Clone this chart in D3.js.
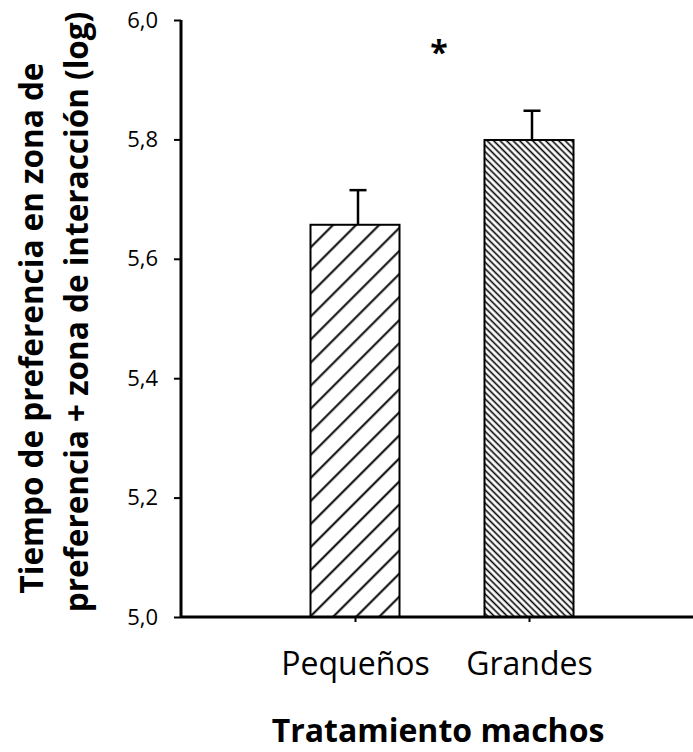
<!DOCTYPE html>
<html>
<head>
<meta charset="utf-8">
<script src="https://cdn.jsdelivr.net/npm/d3@7"></script>
<style>
  body { margin: 0; background: #fff; }
  text { font-family: "Open Sans", sans-serif; fill: #000; }
</style>
</head>
<body>
<svg id="chart" width="693" height="752"></svg>
<script>
const categories = ["Pequeños", "Grandes"];
const means = [5.657, 5.799];
const errors = [0.058, 0.049];
const yTicks = [5.0, 5.2, 5.4, 5.6, 5.8, 6.0];
const patterns = ["hatchWide", "hatchDense"];

const SVG = d3.select("#chart");
const WIDTH = 693;
const HEIGHT = 752;
const MARGIN = { top: 20, bottom: 135, right: -10, left: 181 };
const INNERWIDTH = WIDTH - MARGIN.left - MARGIN.right;
const INNERHEIGHT = HEIGHT - MARGIN.top - MARGIN.bottom;
const BARWIDTH = 89;

const data = categories.map((c, i) => ({ cat: c, mean: means[i], err: errors[i], pat: patterns[i] }));

// hatch patterns
const defs = SVG.append("defs");
defs.append("pattern")
  .attr("id", "hatchWide")
  .attr("patternUnits", "userSpaceOnUse")
  .attr("width", 16.3)
  .attr("height", 16.3)
  .attr("patternTransform", "rotate(45)")
  .append("line")
  .attr("x1", 8).attr("y1", 0).attr("x2", 8).attr("y2", 16.3)
  .attr("stroke", "#000").attr("stroke-width", 2);
defs.append("pattern")
  .attr("id", "hatchDense")
  .attr("patternUnits", "userSpaceOnUse")
  .attr("width", 4.6)
  .attr("height", 4.6)
  .attr("patternTransform", "rotate(-45)")
  .append("line")
  .attr("x1", 2.3).attr("y1", 0).attr("x2", 2.3).attr("y2", 4.6)
  .attr("stroke", "#000").attr("stroke-width", 1.6);

const xScale = d3.scalePoint().domain(categories).range([0, INNERWIDTH]).padding(1);
const yScale = d3.scaleLinear().domain([5.0, 6.0]).range([INNERHEIGHT, 0]);

const g = SVG.append("g")
  .attr("transform", "translate(" + MARGIN.left + "," + MARGIN.top + ")");

// bars
g.selectAll("rect.bar")
  .data(data)
  .join("rect")
  .attr("class", "bar")
  .attr("x", (d) => xScale(d.cat) - BARWIDTH / 2)
  .attr("y", (d) => yScale(d.mean))
  .attr("width", BARWIDTH)
  .attr("height", (d) => yScale(5.0) - yScale(d.mean))
  .attr("fill", (d) => "url(#" + d.pat + ")")
  .attr("stroke", "#000")
  .attr("stroke-width", 2);

// error bars (upper only)
g.selectAll("line.err")
  .data(data)
  .join("line")
  .attr("class", "err")
  .attr("x1", (d) => xScale(d.cat) + 3)
  .attr("x2", (d) => xScale(d.cat) + 3)
  .attr("y1", (d) => yScale(d.mean))
  .attr("y2", (d) => yScale(d.mean + d.err))
  .attr("stroke", "#000")
  .attr("stroke-width", 2.5);
g.selectAll("line.cap")
  .data(data)
  .join("line")
  .attr("class", "cap")
  .attr("x1", (d) => xScale(d.cat) + 3 - 8.5)
  .attr("x2", (d) => xScale(d.cat) + 3 + 8.5)
  .attr("y1", (d) => yScale(d.mean + d.err))
  .attr("y2", (d) => yScale(d.mean + d.err))
  .attr("stroke", "#000")
  .attr("stroke-width", 2.5);

// y axis
const yAxis = g.append("g")
  .attr("id", "y-axis")
  .call(d3.axisLeft(yScale).tickValues(yTicks).tickSize(7).tickPadding(16)
    .tickFormat((d) => d3.format(".1f")(d).replace(".", ",")));
yAxis.select(".domain").attr("stroke-width", 3).attr("d", "M0," + INNERHEIGHT + "V0");
yAxis.selectAll(".tick line").attr("stroke-width", 2);
yAxis.selectAll(".tick text")
  .style("font-family", "'Open Sans', sans-serif")
  .style("font-size", "22px");

// x axis
const xAxis = g.append("g")
  .attr("id", "x-axis")
  .attr("transform", "translate(0," + INNERHEIGHT + ")")
  .call(d3.axisBottom(xScale).tickSize(5).tickPadding(30));
xAxis.select(".domain").attr("stroke-width", 3).attr("d", "M0,0H" + (WIDTH - MARGIN.left));
xAxis.selectAll(".tick line").attr("stroke-width", 2);
xAxis.selectAll(".tick text")
  .style("font-family", "'Open Sans', sans-serif")
  .style("font-size", "32px");

// significance asterisk
g.append("text")
  .attr("x", (xScale(categories[0]) + xScale(categories[1])) / 2 - 3)
  .attr("y", yScale(5.965))
  .attr("dy", "0.72em")
  .attr("text-anchor", "middle")
  .style("font-size", "32px")
  .style("font-weight", "bold")
  .text("*");

// axis titles
g.append("text")
  .attr("class", "y-label")
  .attr("text-anchor", "middle")
  .attr("transform", "translate(-138," + (INNERHEIGHT / 2 + 9.5) + ") rotate(-90)")
  .style("font-size", "31.5px")
  .style("font-weight", "bold")
  .text("Tiempo de preferencia en zona de");
g.append("text")
  .attr("class", "y-label")
  .attr("text-anchor", "middle")
  .attr("transform", "translate(-93," + (INNERHEIGHT / 2 - 6.5) + ") rotate(-90)")
  .style("font-size", "31.5px")
  .style("font-weight", "bold")
  .text("preferencia + zona de interacción (log)");

g.append("text")
  .attr("class", "x-label")
  .attr("text-anchor", "middle")
  .attr("x", (xScale(categories[0]) + xScale(categories[1])) / 2 - 4)
  .attr("y", INNERHEIGHT + 125)
  .style("font-size", "32px")
  .style("font-weight", "bold")
  .text("Tratamiento machos");
</script>
</body>
</html>
